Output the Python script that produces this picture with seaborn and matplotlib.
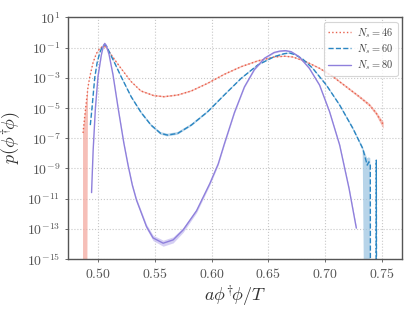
import numpy as np
import pandas as pd
import seaborn as sns
import matplotlib
matplotlib.use("Agg")
import matplotlib.pyplot as plt
from matplotlib.ticker import FuncFormatter, FixedLocator

# values (x, log10 p)
x_46 = [0.4866, 0.4880, 0.4895, 0.4910, 0.4925, 0.4954, 0.4983, 0.5013, 0.5035,
        0.5055, 0.5080, 0.5110, 0.5150, 0.5200, 0.5290, 0.5376, 0.5490, 0.5580,
        0.5700, 0.5820, 0.5965, 0.6110, 0.6260, 0.6406, 0.6550, 0.6640, 0.6715,
        0.6830, 0.6950, 0.7068, 0.7185, 0.7300, 0.7390, 0.7450, 0.7494, 0.7515]
logp_46 = [-6.65, -5.60, -4.60, -3.60, -2.95, -2.00, -1.40, -1.07, -0.94,
           -0.92, -1.08, -1.42, -1.85, -2.37, -3.25, -3.87, -4.18, -4.25,
           -4.14, -3.87, -3.36, -2.77, -2.26, -1.88, -1.62, -1.57, -1.62,
           -1.93, -2.37, -2.92, -3.59, -4.25, -4.80, -5.35, -5.90, -6.13]
err_lo_46 = [30, 30, 30, 0.08, 0.05, 0.04, 0.04, 0.04, 0.04,
             0.04, 0.04, 0.04, 0.04, 0.04, 0.04, 0.05, 0.05, 0.05,
             0.05, 0.05, 0.05, 0.05, 0.05, 0.05, 0.04, 0.04, 0.04,
             0.05, 0.05, 0.06, 0.07, 0.08, 0.10, 0.12, 0.20, 0.25]
err_hi_46 = [0.1, 0.1, 0.08, 0.06, 0.05, 0.04, 0.04, 0.04, 0.04,
             0.04, 0.04, 0.04, 0.04, 0.04, 0.04, 0.05, 0.05, 0.05,
             0.05, 0.05, 0.05, 0.05, 0.05, 0.05, 0.04, 0.04, 0.04,
             0.05, 0.05, 0.06, 0.07, 0.08, 0.10, 0.12, 0.18, 0.20]

x_60 = [0.4930, 0.4945, 0.4969, 0.4990, 0.5013, 0.5035, 0.5055, 0.5075, 0.5101,
        0.5150, 0.5200, 0.5290, 0.5376, 0.5465, 0.5550, 0.5610, 0.5700, 0.5820,
        0.5965, 0.6110, 0.6260, 0.6406, 0.6550, 0.6640, 0.6685, 0.6730, 0.6800,
        0.6890, 0.7010, 0.7127, 0.7244, 0.7330, 0.7370, 0.7385, 0.7397, 0.7400,
        0.7445, 0.7450, 0.7455]
logp_60 = [-6.13, -5.00, -3.00, -2.00, -1.35, -0.95, -0.80, -0.92, -1.35,
           -2.10, -2.90, -4.25, -5.28, -6.13, -6.68, -6.79, -6.68, -6.13,
           -5.24, -4.14, -3.03, -2.15, -1.60, -1.40, -1.36, -1.45, -1.75,
           -2.37, -3.48, -4.80, -6.35, -7.67, -8.78, -8.56, -8.78, -30.0,
           -30.0, -8.45, -30.0]
err_lo_60 = [0.1, 0.08, 0.06, 0.05, 0.05, 0.05, 0.05, 0.05, 0.05,
             0.05, 0.06, 0.07, 0.08, 0.08, 0.09, 0.09, 0.09, 0.08,
             0.07, 0.06, 0.05, 0.05, 0.04, 0.04, 0.04, 0.04, 0.04,
             0.05, 0.06, 0.07, 0.09, 0.12, 30, 30, 30, 0,
             0, 0, 0]
err_hi_60 = [0.1, 0.08, 0.06, 0.05, 0.05, 0.05, 0.05, 0.05, 0.05,
             0.05, 0.06, 0.07, 0.08, 0.08, 0.09, 0.09, 0.09, 0.08,
             0.07, 0.06, 0.05, 0.05, 0.04, 0.04, 0.04, 0.04, 0.04,
             0.05, 0.06, 0.07, 0.09, 0.12, 0.45, 0.3, 0.45, 0,
             0, 0, 0]

x_80 = [0.4941, 0.4955, 0.4975, 0.4998, 0.5028, 0.5045, 0.5057, 0.5070, 0.5095,
        0.5130, 0.5175, 0.5225, 0.5263, 0.5300, 0.5337, 0.5425, 0.5483, 0.5572,
        0.5660, 0.5748, 0.5866, 0.5983, 0.6057, 0.6110, 0.6200, 0.6288, 0.6376,
        0.6465, 0.6550, 0.6600, 0.6650, 0.6700, 0.6770, 0.6860, 0.6950, 0.7038,
        0.7127, 0.7210, 0.7274]
logp_80 = [-10.60, -7.80, -5.00, -2.90, -1.45, -0.90, -0.72, -0.85, -1.45,
           -2.80, -5.00, -7.30, -8.80, -10.10, -11.10, -12.85, -13.60, -13.95,
           -13.73, -13.07, -11.80, -10.00, -8.70, -7.40, -5.30, -3.60, -2.45,
           -1.70, -1.32, -1.23, -1.20, -1.27, -1.60, -2.37, -3.48, -5.24,
           -7.45, -10.33, -12.95]
err_80 = [0.1, 0.08, 0.05, 0.04, 0.04, 0.04, 0.04, 0.04, 0.04,
          0.05, 0.06, 0.08, 0.09, 0.1, 0.12, 0.15, 0.18, 0.2,
          0.2, 0.16, 0.13, 0.1, 0.08, 0.07, 0.05, 0.04, 0.04,
          0.04, 0.04, 0.04, 0.04, 0.04, 0.04, 0.04, 0.05, 0.06,
          0.07, 0.08, 0.1]

labels = [r"$N_s = 46$", r"$N_s = 60$", r"$N_s = 80$"]
colors = ["#e8604c", "#2b86c2", "#8f80dc"]
band_colors = ["#f3aaa0", "#9fc6e2", "#c7bff0"]
styles = [":", "--", "-"]

sns.set_theme(style="ticks")
plt.rcParams["mathtext.fontset"] = "cm"
plt.rcParams["font.family"] = ["DejaVu Serif"]

fig = plt.figure(figsize=(4.15, 3.11), dpi=100)
ax = fig.add_axes([0.164, 0.167, 0.804, 0.777])

series = [
    (x_46, logp_46, err_lo_46, err_hi_46),
    (x_60, logp_60, err_lo_60, err_hi_60),
    (x_80, logp_80, err_80, err_80),
]
for (xs, lp, elo, ehi), lab, col, bcol, ls in zip(series, labels, colors, band_colors, styles):
    lp = np.array(lp)
    p = 10.0 ** lp
    lo = 10.0 ** (lp - np.array(elo))
    hi = 10.0 ** (lp + np.array(ehi))
    ax.fill_between(xs, lo, hi, color=bcol, alpha=0.75, lw=0)
    df = pd.DataFrame({"x": xs, "p": p})
    sns.lineplot(data=df, x="x", y="p", ax=ax, color=col, linestyle=ls,
                 lw=1.0, label=lab)

ax.set_yscale("log")
ax.set_ylim(1e-15, 1e1)
ax.set_xlim(0.4734, 0.7674)

ax.yaxis.set_major_locator(FixedLocator([10.0 ** k for k in range(-15, 2, 2)]))
ax.yaxis.set_minor_locator(FixedLocator([]))
ax.yaxis.set_major_formatter(FuncFormatter(lambda v, pos: r"$10^{%d}$" % int(round(np.log10(v)))))
ax.xaxis.set_major_locator(FixedLocator([0.50, 0.55, 0.60, 0.65, 0.70, 0.75]))
ax.xaxis.set_major_formatter(FuncFormatter(lambda v, pos: r"$%.2f$" % v))

ax.grid(True, linestyle=":", color="#c8c8c8", lw=0.8)
ax.tick_params(labelsize=10, colors="#555555", length=2, width=0.6)
for s in ax.spines.values():
    s.set_color("#555555")
    s.set_linewidth(1.0)

ax.set_xlabel(r"$a\phi^{\dagger}\!\phi/T$", fontsize=13, color="#333333", labelpad=2)
ax.set_ylabel(r"$p(\phi^{\dagger}\!\phi)$", fontsize=13, color="#333333", labelpad=2)

leg = ax.legend(loc="upper right", fontsize=7.5, frameon=True, fancybox=True,
                borderaxespad=0.4, handlelength=2.2, labelspacing=0.25,
                borderpad=0.4, handletextpad=0.6)
leg.get_frame().set_edgecolor("#cccccc")
leg.get_frame().set_linewidth(0.8)
for t in leg.get_texts():
    t.set_color("#444444")

fig.savefig("out.png", dpi=100)
